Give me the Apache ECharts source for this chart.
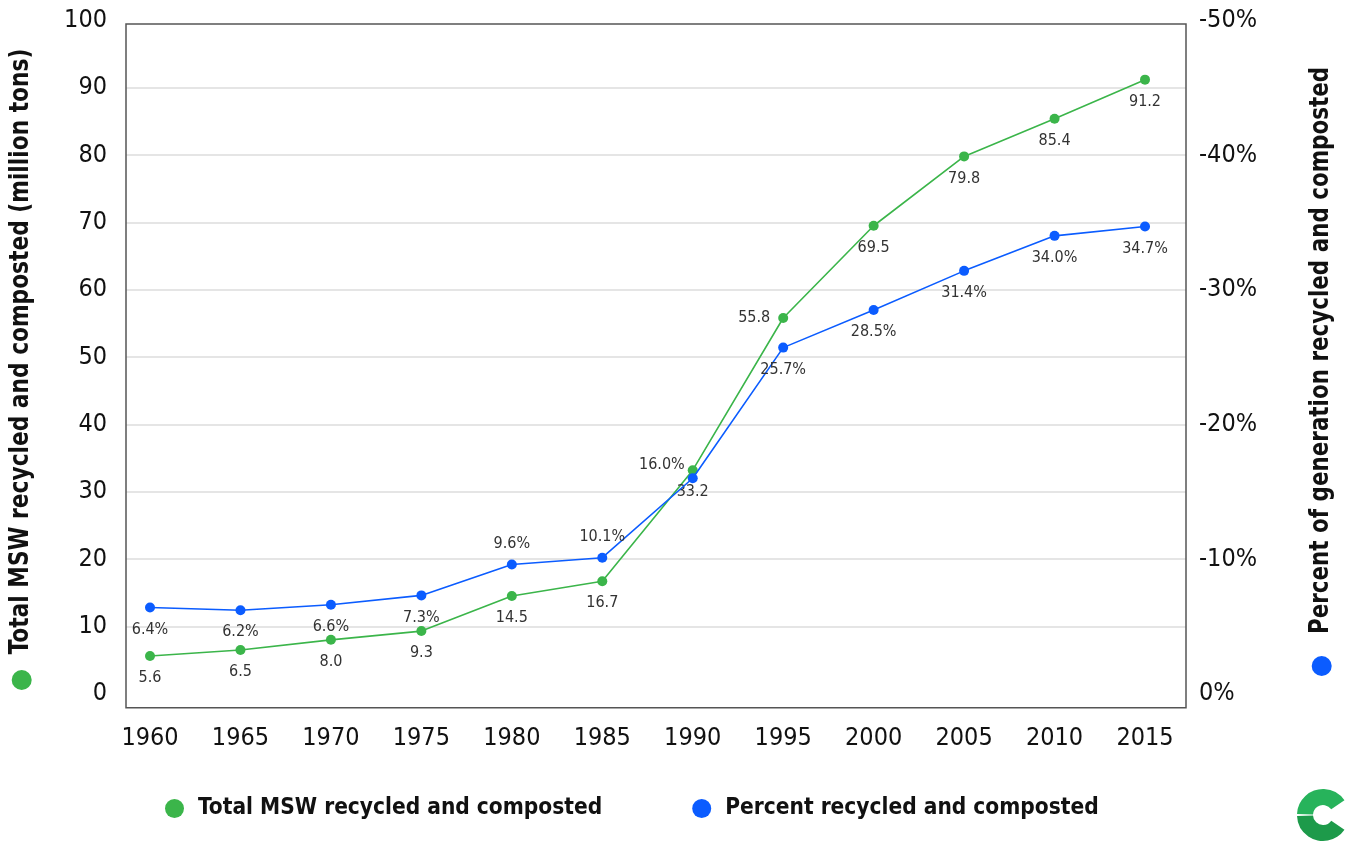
<!DOCTYPE html>
<html>
<head>
<meta charset="utf-8">
<script src="https://cdn.jsdelivr.net/npm/echarts@6/dist/echarts.min.js"></script>
<style>
html,body{margin:0;padding:0;background:#fff;}
#chart{width:1351px;height:847px;}
</style>
</head>
<body>
<div id="chart"></div>
<script>
const years = [1960, 1965, 1970, 1975, 1980, 1985, 1990, 1995, 2000, 2005, 2010, 2015];
const tonnage = [5.6, 6.5, 8.0, 9.3, 14.5, 16.7, 33.2, 55.8, 69.5, 79.8, 85.4, 91.2];
const percent = [6.4, 6.2, 6.6, 7.3, 9.6, 10.1, 16.0, 25.7, 28.5, 31.4, 34.0, 34.7];
const leftTickLabels = ['0', '10', '20', '30', '40', '50', '60', '70', '80', '90', '100'];
const rightTickLabels = ['0%', '-10%', '-20%', '-30%', '-40%', '-50%'];
const seriesNames = ['Total MSW recycled and composted', 'Percent recycled and composted'];
const leftAxisName = 'Total MSW recycled and composted (million tons)';
const rightAxisName = 'Percent of generation recycled and composted';

// label placement (style only)
const tonLabelPos = {1995: {position: 'left', distance: 8}};
const pctLabelPos = {
  1980: {position: 'top', distance: 8},
  1985: {position: 'top', distance: 8},
  1990: {position: 'left', distance: 3, offset: [0, -13]}
};

const GREEN = '#3bb54a';
const BLUE = '#0b5cff';
const NARROW = "'Liberation Sans Narrow', 'DejaVu Sans Condensed', 'Roboto', sans-serif";

const chart = echarts.init(document.getElementById('chart'));

function buildData(vals, posMap, fmt) {
  return years.map((y, i) => {
    const p = posMap[y] || {position: 'bottom', distance: 9};
    return {value: [y, vals[i]], label: Object.assign({formatter: fmt(vals[i])}, p)};
  });
}

const option = {
  backgroundColor: '#fff',
  animation: false,
  grid: {left: 126, right: 165, top: 20.4, bottom: 153.3, containLabel: false},
  xAxis: {
    type: 'value',
    min: 1958.673,
    max: 2017.266,
    axisLine: {show: false},
    axisTick: {show: false},
    splitLine: {show: false},
    axisLabel: {
      customValues: years,
      formatter: v => String(v),
      fontFamily: NARROW, fontSize: 25, color: '#111', margin: 32
    }
  },
  yAxis: [
    {
      type: 'value', min: 0, max: 100, interval: 10,
      axisLine: {show: false}, axisTick: {show: false},
      splitLine: {show: true, showMinLine: false, showMaxLine: false, lineStyle: {color: '#dcdcdc', width: 1.5}},
      axisLabel: {
        formatter: (v) => leftTickLabels[Math.round(v / 10)],
        fontFamily: NARROW, fontSize: 25, color: '#111', margin: 19
      }
    },
    {
      type: 'value', min: 0, max: 50, interval: 10, position: 'right',
      axisLine: {show: false}, axisTick: {show: false},
      splitLine: {show: false},
      axisLabel: {
        formatter: (v) => rightTickLabels[Math.round(v / 10)],
        fontFamily: NARROW, fontSize: 25, color: '#111', margin: 13
      }
    }
  ],
  legend: {
    bottom: 22,
    left: 160,
    icon: 'circle',
    itemWidth: 19, itemHeight: 19,
    itemGap: 90,
    data: seriesNames,
    textStyle: {fontFamily: NARROW, fontWeight: 'bold', fontSize: 22.5, color: '#111', padding: [0, 0, 0, 9]}
  },
  graphic: [
    {type: 'rect', silent: true, z: 100, shape: {x: 126, y: 24, width: 1060, height: 683.7},
     style: {fill: 'none', stroke: '#555', lineWidth: 1.5}},
    {type: 'text', silent: true, x: 21, y: 351.5, rotation: Math.PI / 2, scaleX: 0.895,
     style: {text: leftAxisName, align: 'center', verticalAlign: 'middle', font: "bold 27px " + NARROW, fill: '#111'}},
    {type: 'circle', silent: true, shape: {cx: 21.7, cy: 680, r: 10}, style: {fill: GREEN}},
    {type: 'text', silent: true, x: 1321, y: 350.5, rotation: Math.PI / 2, scaleX: 0.883,
     style: {text: rightAxisName, align: 'center', verticalAlign: 'middle', font: "bold 27px " + NARROW, fill: '#111'}},
    {type: 'circle', silent: true, shape: {cx: 1321.7, cy: 666, r: 10}, style: {fill: BLUE}},
    {type: 'sector', silent: true, shape: {cx: 1323, cy: 815, r0: 10, r: 26, startAngle: Math.PI + 0.04, endAngle: 2 * Math.PI - 0.6, clockwise: true},
     style: {fill: '#27b35b'}},
    {type: 'sector', silent: true, shape: {cx: 1323, cy: 815, r0: 10, r: 26, startAngle: 0.6, endAngle: Math.PI - 0.04, clockwise: true},
     style: {fill: '#1d9a4a'}}
  ],
  series: [
    {
      name: seriesNames[0], type: 'line', yAxisIndex: 0,
      data: buildData(tonnage, tonLabelPos, v => v.toFixed(1)),
      symbol: 'circle', symbolSize: 10,
      itemStyle: {color: GREEN},
      lineStyle: {color: GREEN, width: 1.6},
      label: {show: true, fontFamily: NARROW, fontSize: 16, color: '#333'},
      z: 3
    },
    {
      name: seriesNames[1], type: 'line', yAxisIndex: 1,
      data: buildData(percent, pctLabelPos, v => v.toFixed(1) + '%'),
      symbol: 'circle', symbolSize: 10,
      itemStyle: {color: BLUE},
      lineStyle: {color: BLUE, width: 1.6},
      label: {show: true, fontFamily: NARROW, fontSize: 16, color: '#333'},
      z: 4
    }
  ]
};
chart.setOption(option);
</script>
</body>
</html>
